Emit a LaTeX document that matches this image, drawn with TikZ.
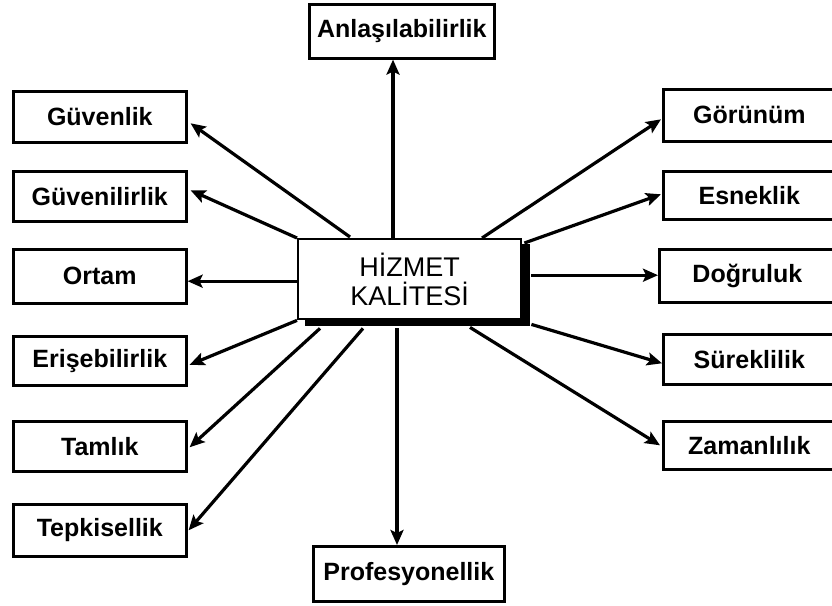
\documentclass[tikz,border=0pt]{standalone}
\usepackage{fontspec}
\setmainfont{Liberation Sans}
\usetikzlibrary{arrows.meta,calc}

\begin{document}
\begin{tikzpicture}[x=1pt,y=-1pt,
  lbl/.style={draw=black, line width=2.6pt, fill=white, anchor=north west,
    inner sep=0pt, font=\fontsize{25}{27}\selectfont\bfseries},
  lft/.style={lbl, minimum width=173pt},
  rgt/.style={lbl, minimum width=172pt},
  link/.style={line width=3.2pt, -{Stealth[length=15pt,width=13pt,inset=3pt]}},
]
\useasboundingbox (0,0) rectangle (832,605);
\clip (0,0) rectangle (832,605);

% central box with its solid shadow
\node[fill=black, inner sep=0pt, minimum width=225pt, minimum height=82pt,
  anchor=north west] (sh) at (305,244) {};
\node[draw=black, line width=2.4pt, fill=white, inner sep=0pt,
  minimum width=223pt, minimum height=80pt, anchor=north west, align=center,
  font=\fontsize{27}{29}\selectfont] (c) at (297,238) {HİZMET\\KALİTESİ};

% top and bottom boxes
\node[lbl, minimum width=185pt, minimum height=54pt] (anl) at (308,3) {Anlaşılabilirlik};
\node[lbl, minimum width=191pt, minimum height=55pt] (pro) at (312,545) {Profesyonellik};

% left column
\node[lft, minimum height=51pt] (guv) at (12,90)  {Güvenlik};
\node[lft, minimum height=50pt] (gvl) at (12,170) {Güvenilirlik};
\node[lft, minimum height=54pt] (ort) at (12,248) {Ortam};
\node[lft, minimum height=49pt] (eri) at (12,335) {Erişebilirlik};
\node[lft, minimum height=50pt] (tam) at (12,420) {Tamlık};
\node[lft, minimum height=52pt] (tep) at (12,503) {Tepkisellik};

% right column
\node[rgt, minimum height=52pt] (gor) at (662,88)  {Görünüm};
\node[rgt, minimum height=48pt] (esn) at (662,170) {Esneklik};
\node[lbl, minimum width=176pt, minimum height=53pt] (dog) at (658,248) {Doğruluk};
\node[rgt, minimum height=50pt] (sur) at (662,333) {Süreklilik};
\node[rgt, minimum height=48pt] (zam) at (662,420) {Zamanlılık};

% starting points on the central box
\coordinate (sTop) at ($(c.north west)+(96,0)$);
\coordinate (sGuv) at ($(c.north west)+(53,-1)$);
\coordinate (sGvl) at (c.north west);
\coordinate (sOrt) at ($(c.west)+(0,2)$);
\coordinate (sEri) at (c.south west);
\coordinate (sTam) at ($(c.south west)+(23,8)$);
\coordinate (sTep) at ($(c.south west)+(66,8)$);
\coordinate (sPro) at ($(c.south west)+(100,8)$);
\coordinate (sZam) at ($(c.south west)+(173,7)$);
\coordinate (sSur) at ($(c.south east)+(9,4)$);
\coordinate (sDog) at ($(c.east)+(9,-4)$);
\coordinate (sEsn) at ($(c.north east)+(2,5)$);
\coordinate (sGor) at ($(c.north west)+(185,0)$);

% connectors
\draw[link] (sTop) -- (sTop |- anl.south);
\draw[link] (sPro) -- (sPro |- pro.north);
\draw[link] (sGuv) -- ($(guv.east)+(3,6.5)$);
\draw[link] (sGvl) -- ($(gvl.east)+(3,-6)$);
\draw[link] (sOrt) -- (sOrt -| ort.east);
\draw[link] (sEri) -- ($(eri.east)+(2,4)$);
\draw[link] (sTam) -- ($(tam.east)+(2,1)$);
\draw[link] (sTep) -- ($(tep.east)+(1,0)$);
\draw[link] (sGor) -- ($(gor.west)+(-1,4)$);
\draw[link] (sEsn) -- ($(esn.west)+(-1,-1)$);
\draw[link] (sDog) -- (sDog -| dog.west);
\draw[link] (sSur) -- ($(sur.west)+(0,4)$);
\draw[link] (sZam) -- ($(zam.west)+(-2,0)$);
\end{tikzpicture}
\end{document}
